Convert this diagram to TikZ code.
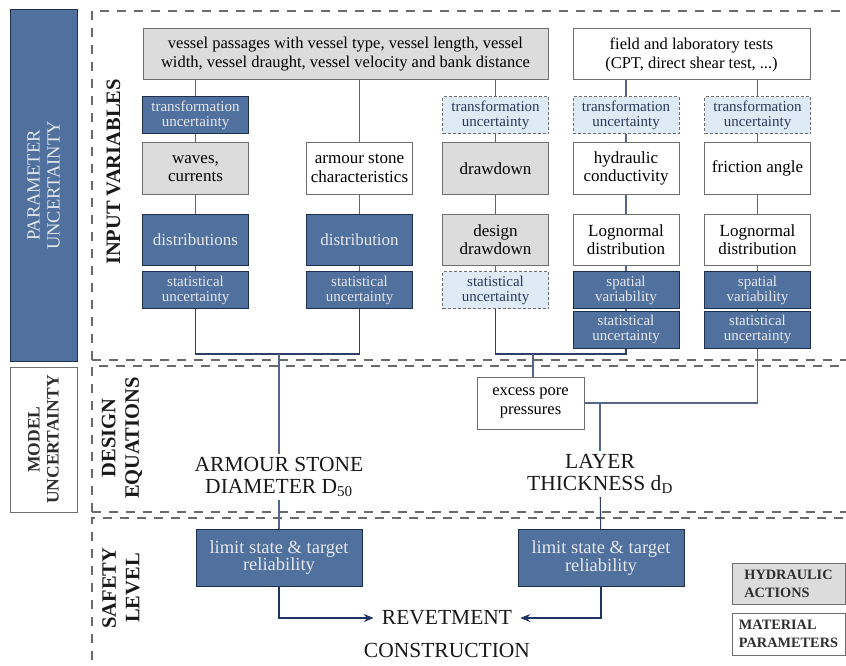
\documentclass[tikz,border=0pt]{standalone}
\usepackage{fontspec}
\setmainfont{Liberation Serif}
\usetikzlibrary{arrows.meta}
\definecolor{bfill}{HTML}{50709E}
\definecolor{bdraw}{HTML}{1F2F4F}
\definecolor{btext}{HTML}{E6E8EC}
\definecolor{gfill}{HTML}{DCDCDC}
\definecolor{gdraw}{HTML}{6E6E6E}
\definecolor{lbfill}{HTML}{DEEAF6}
\definecolor{lbtext}{HTML}{2A3A5A}
\definecolor{conn}{HTML}{56668A}
\definecolor{connd}{HTML}{2E3E66}
\definecolor{navy}{HTML}{1F3462}
\definecolor{sect}{HTML}{6A6A6A}
\definecolor{legtext}{HTML}{2E2E2E}
\tikzset{
 base/.style={rectangle, align=center, inner sep=1pt, line width=1pt, font=\fontsize{17}{18.5}\selectfont},
 cell/.style={minimum width=106pt},
 bluebox/.style={base, fill=bfill, draw=bdraw, text=btext},
 greybox/.style={base, fill=gfill, draw=gdraw, text=black},
 whitebox/.style={base, fill=white, draw=gdraw, text=black},
 lbbox/.style={base, fill=lbfill, draw=gdraw, dash pattern=on 3pt off 2pt, text=lbtext},
 small/.style={font=\fontsize{15}{15}\selectfont},
 hrow/.style={minimum height=37pt},
 mrow/.style={minimum height=51pt},
 wire/.style={draw=conn, line width=1.1pt},
 wired/.style={draw=connd, line width=1.1pt},
 arr/.style={draw=navy, line width=1.1pt, -{Stealth[length=10pt,width=8pt]}},
 sectline/.style={draw=sect, line width=1.6pt, dash pattern=on 9pt off 8pt},
 seclabel/.style={rotate=90, font=\bfseries\fontsize{20.5}{23.5}\selectfont, align=center, text=black!90},
 result/.style={font=\fontsize{21.5}{22}\selectfont, align=center, inner sep=3pt, text=black!90},
 limitbox/.style={bluebox, minimum width=166pt, minimum height=57pt, font=\fontsize{18.5}{15}\selectfont},
 legendbox/.style={base, minimum width=113pt, align=left, text=legtext, font=\bfseries\fontsize{14.3}{18}\selectfont}
}
\begin{document}
\begin{tikzpicture}[x=1pt,y=-1pt]
\useasboundingbox (0,0) rectangle (846,666);

% left side boxes
\node[bluebox, rotate=90, minimum width=351pt, minimum height=67pt, font=\fontsize{18.5}{20}\selectfont] (param) at (43.5,185.5) {PARAMETER\\UNCERTAINTY};
\node[whitebox, rotate=90, minimum width=145pt, minimum height=67pt, font=\bfseries\fontsize{17.5}{19}\selectfont, text=legtext] (model) at (43.5,439.5) {MODEL\\UNCERTAINTY};

% section frames
\draw[sectline] (92,360) -- (92,11) -- (846,11);
\draw[sectline] (92,360) -- (846,360);
\draw[sectline] (92,512) -- (92,366) -- (846,366);
\draw[sectline] (92,512) -- (846,512);
\draw[sectline] (92,660) -- (92,518) -- (846,518);

% section labels
\node[seclabel] (lin) at (113.5,172) {INPUT VARIABLES};
\node[seclabel] (lde) at (122,438) {DESIGN\\EQUATIONS};
\node[seclabel] (lsa) at (121,588) {SAFETY\\LEVEL};

% top boxes
\node[greybox, minimum width=405pt, minimum height=51pt, font=\fontsize{16.5}{19}\selectfont] (vessel) at (345.5,54.5) {vessel passages with vessel type, vessel length, vessel\\width, vessel draught, vessel velocity and bank distance};
\node[whitebox, minimum width=237pt, minimum height=51pt, font=\fontsize{16.5}{19}\selectfont] (field) at (691.5,54.5) {field and laboratory tests\\(CPT, direct shear test, ...)};

% column 1
\node[bluebox, cell, hrow, small] (t1) at (195.5,115.5) {transformation\\uncertainty};
\node[greybox, cell, mrow] (m1) at (195.5,168.5) {waves,\\currents};
\node[bluebox, cell, mrow] (d1) at (195.5,239.5) {distributions};
\node[bluebox, cell, hrow, small] (s1) at (195.5,290) {statistical\\uncertainty};

% column 2
\node[whitebox, cell, mrow] (m2) at (359.5,168.5) {armour stone\\characteristics};
\node[bluebox, cell, mrow] (d2) at (359.5,239.5) {distribution};
\node[bluebox, cell, hrow, small] (s2) at (359.5,290) {statistical\\uncertainty};

% column 3
\node[lbbox, cell, hrow, small] (t3) at (495.5,115.5) {transformation\\uncertainty};
\node[greybox, cell, mrow] (m3) at (495.5,168.5) {drawdown};
\node[greybox, cell, mrow] (d3) at (495.5,239.5) {design\\drawdown};
\node[lbbox, cell, hrow, small] (s3) at (495.5,290) {statistical\\uncertainty};

% column 4
\node[lbbox, cell, hrow, small] (t4) at (626,115.5) {transformation\\uncertainty};
\node[whitebox, cell, mrow] (m4) at (626,168.5) {hydraulic\\conductivity};
\node[whitebox, cell, mrow] (d4) at (626,239.5) {Lognormal\\distribution};
\node[bluebox, cell, hrow, small] (v4) at (626,290) {spatial\\variability};
\node[bluebox, cell, hrow, small] (s4) at (626,329.5) {statistical\\uncertainty};

% column 5
\node[lbbox, cell, hrow, small] (t5) at (757.5,115.5) {transformation\\uncertainty};
\node[whitebox, cell, mrow] (m5) at (757.5,168.5) {friction angle};
\node[whitebox, cell, mrow] (d5) at (757.5,239.5) {Lognormal\\distribution};
\node[bluebox, cell, hrow, small] (v5) at (757.5,290) {spatial\\variability};
\node[bluebox, cell, hrow, small] (s5) at (757.5,329.5) {statistical\\uncertainty};

% design equations
\node[whitebox, minimum width=107pt, minimum height=52pt, font=\fontsize{16.5}{19}\selectfont] (excess) at (530.5,403) {excess pore\\pressures};
\node[result] (armour) at (279,477) {ARMOUR STONE\\DIAMETER D\textsubscript{50}};
\node[result] (layer) at (600,474) {LAYER\\THICKNESS d\textsubscript{D}};

% safety level
\node[limitbox] (lim1) at (279,557.5) {limit state \& target\\reliability};
\node[limitbox] (lim2) at (601,558) {limit state \& target\\reliability};
\node[result, inner xsep=8pt] (rev) at (447,618) {REVETMENT};
\node[result] (revc) at (447,650) {CONSTRUCTION};

% legend
\node[greybox, legendbox, minimum height=41pt] (hyd) at (788.5,583.5) {HYDRAULIC\\ACTIONS};
\node[whitebox, legendbox, minimum height=42pt] (mat) at (788.5,634) {MATERIAL\\PARAMETERS};

% connectors top
\draw[wire] (vessel.south -| t1.north) -- (t1.north);
\draw[wire] (vessel.south -| m2.north) -- (m2.north);
\draw[wire] (vessel.south -| t3.north) -- (t3.north);
\draw[wire] (field.south -| t4.north) -- (t4.north);
\draw[wire] (field.south -| t5.north) -- (t5.north);
\draw[wire] (t1) -- (m1) -- (d1) -- (s1);
\draw[wire] (m2) -- (d2) -- (s2);
\draw[wire] (t3) -- (m3) -- (d3) -- (s3);
\draw[wire] (t4) -- (m4) -- (d4) -- (v4) -- (s4);
\draw[wire] (t5) -- (m5) -- (d5) -- (v5) -- (s5);

% brackets
\coordinate (j1) at (279,354);
\coordinate (j2) at (533,354);
\coordinate (j3) at (600,403);
\draw[wired] (s1.south) |- (j1) -| (s2.south);
\draw[wire] (j1) -- (armour.north);
\draw[wired] (s3.south) |- (j2) -| (s4.south);
\draw[wire] (j2) -- (j2 |- excess.north);
\draw[wire] (s5.south) |- (j3) -- (excess.east);
\draw[wire] (j3) -- (layer.north);
\draw[wire] (armour) -- (lim1);
\draw[wired] (layer) -- (lim2);

% arrows
\draw[arr] (lim1.south) |- (rev.west);
\draw[arr] (lim2.south) |- (rev.east);
\end{tikzpicture}
\end{document}
